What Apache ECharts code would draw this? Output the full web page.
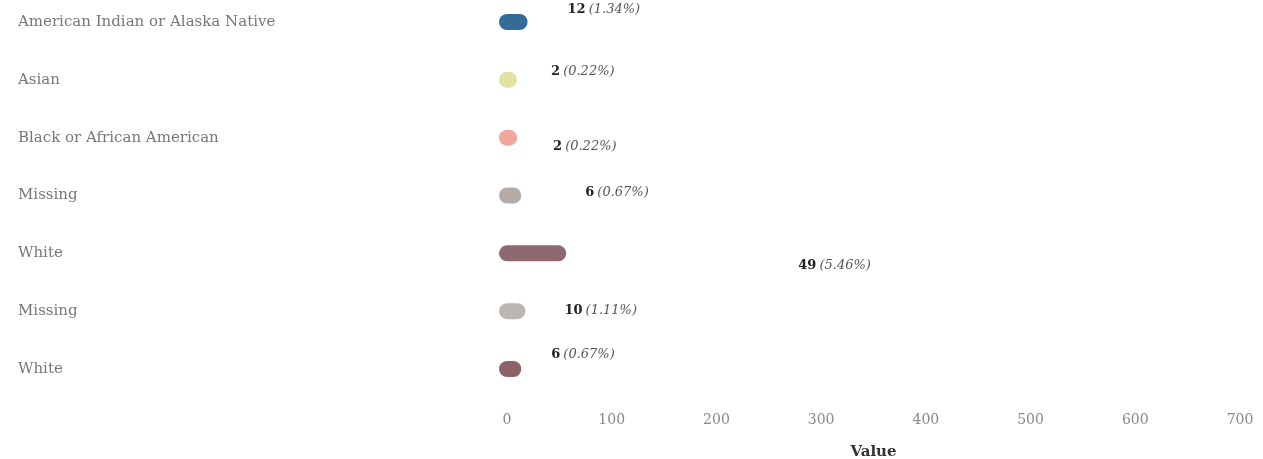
<!DOCTYPE html>
<html>
<head>
<meta charset="utf-8">
<script src="https://cdn.jsdelivr.net/npm/echarts@6/dist/echarts.min.js"></script>
<style>html,body{margin:0;padding:0;background:#fff;}#c{width:1263px;height:459px;}</style>
</head>
<body>
<div id="c"></div>
<script>
const categories = ['American Indian or Alaska Native','Asian','Black or African American','Missing','White','Missing','White'];
const values = [12, 2, 2, 6, 49, 10, 6];
const percents = ['1.34%','0.22%','0.22%','0.67%','5.46%','1.11%','0.67%'];
const xTicks = [0, 100, 200, 300, 400, 500, 600, 700];
const colors = ['#356b99','#e2e3a0','#f0a89a','#b5aca6','#8e6a70','#bcb6b3','#8e6269'];
const labelOffsets = [[48,-12],[42,-8],[44,9],[72,-3],[240,12],[47,-1],[38,-14]];
const FONT = "'DejaVu Serif', Georgia, serif";

const chart = echarts.init(document.getElementById('c'));
chart.setOption({
  animation: false,
  grid: { left: 507, right: 23, top: 22, bottom: 90, outerBoundsMode: 'none', containLabel: false },
  xAxis: {
    type: 'value', min: xTicks[0], max: xTicks[xTicks.length-1], interval: 100,
    axisLine: { show: false }, axisTick: { show: false }, splitLine: { show: false },
    axisLabel: { color: '#888', fontFamily: FONT, fontSize: 14, margin: 44 },
    name: 'Value', nameLocation: 'middle', nameGap: 76,
    nameTextStyle: { color: '#333', fontFamily: FONT, fontSize: 15, fontWeight: 'bold' }
  },
  yAxis: {
    type: 'category', data: categories, inverse: true, boundaryGap: false,
    axisLine: { show: false }, axisTick: { show: false }, splitLine: { show: false },
    axisLabel: { align: 'left', margin: 489, color: '#777', fontFamily: FONT, fontSize: 15 }
  },
  series: [{
    type: 'custom',
    data: values.map((v, i) => [v, i]),
    renderItem: function (params, api) {
      const i = params.dataIndex;
      const v = api.value(0);
      const start = api.coord([0, i]);
      const end = api.coord([v, i]);
      const off = labelOffsets[i];
      return {
        type: 'group',
        children: [{
          type: 'line',
          shape: { x1: start[0], y1: start[1], x2: end[0], y2: end[1] },
          style: { stroke: colors[i], lineWidth: 16, lineCap: 'round' }
        }, {
          type: 'text',
          x: end[0] + off[0], y: end[1] + off[1],
          style: {
            text: '{v|' + values[i] + '}{p|(' + percents[i] + ')}',
            verticalAlign: 'middle', align: 'left',
            rich: {
              v: { fontFamily: FONT, fontSize: 13, fontWeight: 'bold', fill: '#222', padding: [0, 3, 0, 0] },
              p: { fontFamily: FONT, fontSize: 13, fontStyle: 'italic', fill: '#555' }
            }
          }
        }]
      };
    }
  }]
});
</script>
</body>
</html>
